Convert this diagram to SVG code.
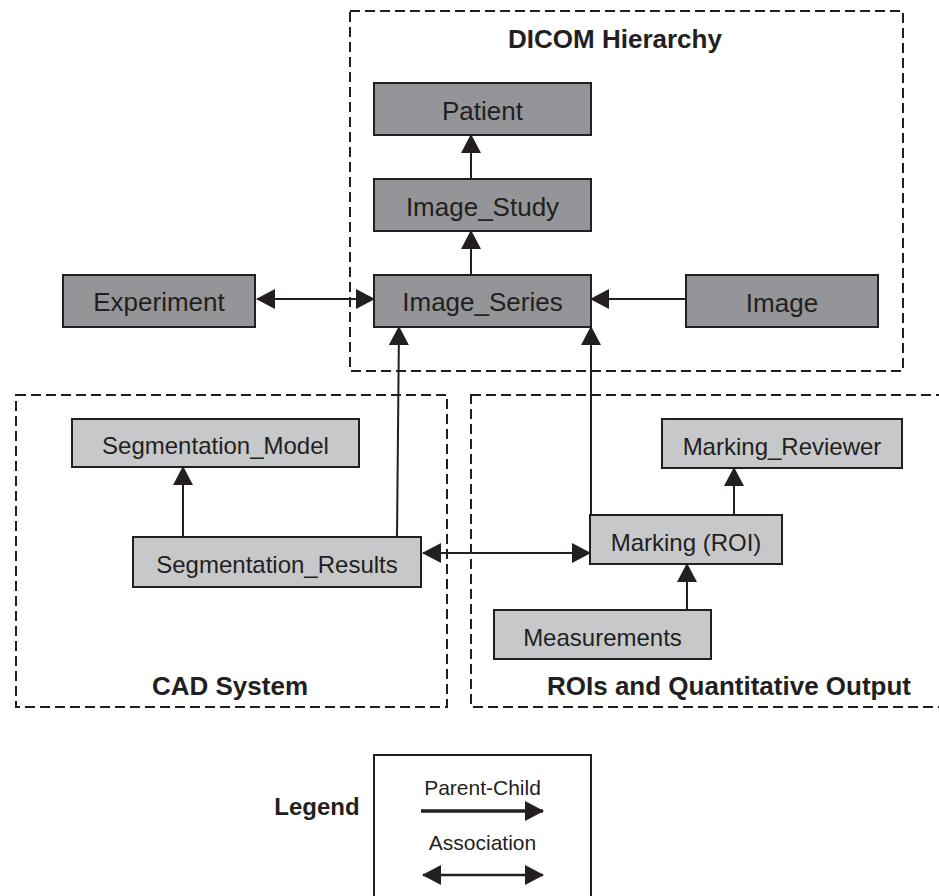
<svg xmlns="http://www.w3.org/2000/svg" width="939" height="896" viewBox="0 0 939 896">
<defs>
<style>
.group{fill:none;stroke:#231f20;stroke-width:2;stroke-dasharray:10 5}
.dark rect{fill:#939598;stroke:#231f20;stroke-width:2}
.light rect{fill:#c7c8ca;stroke:#231f20;stroke-width:2}
.dark text{font-family:"Liberation Sans",Arial,sans-serif;font-size:26px;fill:#231f20;text-anchor:middle}
.light text{font-family:"Liberation Sans",Arial,sans-serif;font-size:24px;fill:#231f20;text-anchor:middle}
.title{font-family:"Liberation Sans",Arial,sans-serif;font-size:26px;font-weight:bold;fill:#231f20;text-anchor:middle}
.conn line{stroke:#231f20;stroke-width:2}
.legtext{font-family:"Liberation Sans",Arial,sans-serif;font-size:21px;fill:#231f20;text-anchor:middle}
</style>
<marker id="arr" markerUnits="userSpaceOnUse" markerWidth="20" markerHeight="20" viewBox="0 0 19 20" refX="18" refY="10" orient="auto-start-reverse">
<path d="M0,0 L19,10 L0,20 z" fill="#231f20"/>
</marker>
</defs>
<rect x="0" y="0" width="939" height="896" fill="#ffffff"/>

<g id="group-dicom">
<rect class="group" x="350" y="11" width="553" height="360"/>
<text class="title" x="615" y="48">DICOM Hierarchy</text>
</g>
<g id="group-cad">
<rect class="group" x="16" y="395" width="431" height="312"/>
<text class="title" x="230" y="695">CAD System</text>
</g>
<g id="group-roi">
<rect class="group" x="471" y="395" width="480" height="312"/>
<text class="title" x="729" y="695">ROIs and Quantitative Output</text>
</g>

<g id="patient" class="dark"><rect x="374" y="83" width="217" height="52"/><text x="482.5" y="120">Patient</text></g>
<g id="image_study" class="dark"><rect x="374" y="179" width="217" height="52"/><text x="482.5" y="216">Image_Study</text></g>
<g id="image_series" class="dark"><rect x="374" y="275" width="217" height="52"/><text x="482.5" y="311">Image_Series</text></g>
<g id="image" class="dark"><rect x="686" y="275" width="192" height="52"/><text x="782" y="312">Image</text></g>
<g id="experiment" class="dark"><rect x="63" y="275" width="192" height="52"/><text x="159" y="311">Experiment</text></g>

<g id="segmentation_model" class="light"><rect x="72" y="419" width="287" height="48"/><text x="215.5" y="454">Segmentation_Model</text></g>
<g id="segmentation_results" class="light"><rect x="133" y="537" width="288" height="50"/><text x="277" y="573">Segmentation_Results</text></g>
<g id="marking_reviewer" class="light"><rect x="662" y="419" width="240" height="49"/><text x="782" y="455">Marking_Reviewer</text></g>
<g id="marking_roi" class="light"><rect x="590" y="515" width="192" height="49"/><text x="686" y="551">Marking (ROI)</text></g>
<g id="measurements" class="light"><rect x="494" y="610" width="217" height="49"/><text x="602.5" y="646">Measurements</text></g>

<g id="connectors" class="conn">
<line x1="471" y1="179" x2="471" y2="135" marker-end="url(#arr)"/>
<line x1="471" y1="275" x2="471" y2="231" marker-end="url(#arr)"/>
<line x1="686" y1="299" x2="591" y2="299" marker-end="url(#arr)"/>
<line x1="257" y1="299" x2="374" y2="299" marker-start="url(#arr)" marker-end="url(#arr)"/>
<line x1="397" y1="537" x2="399" y2="327" marker-end="url(#arr)"/>
<line x1="591" y1="515" x2="591" y2="327" marker-end="url(#arr)"/>
<line x1="183" y1="537" x2="183" y2="467" marker-end="url(#arr)"/>
<line x1="734" y1="515" x2="734" y2="468" marker-end="url(#arr)"/>
<line x1="687" y1="610" x2="687" y2="564" marker-end="url(#arr)"/>
<line x1="423" y1="553" x2="590" y2="553" marker-start="url(#arr)" marker-end="url(#arr)"/>
</g>

<g id="legend">
<text class="title" x="317" y="815" style="font-size:24px">Legend</text>
<rect x="374" y="755" width="217" height="160" fill="none" stroke="#231f20" stroke-width="2"/>
<text class="legtext" x="482.5" y="795">Parent-Child</text>
<line x1="421" y1="811" x2="543" y2="811" stroke="#231f20" stroke-width="3.5" marker-end="url(#arr)"/>
<text class="legtext" x="482.5" y="850">Association</text>
<line x1="423" y1="875" x2="543" y2="875" stroke="#231f20" stroke-width="2.5" marker-start="url(#arr)" marker-end="url(#arr)"/>
</g>
</svg>
